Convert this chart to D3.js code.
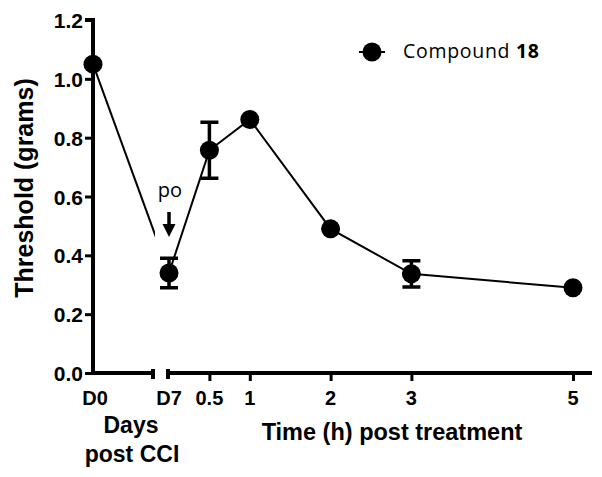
<!DOCTYPE html>
<html><head><meta charset="utf-8">
<script src="https://cdn.jsdelivr.net/npm/d3@7"></script>
<style>body{margin:0;background:#fff}svg{display:block}</style>
</head><body><svg id="c" width="602" height="477"></svg>
<script>
// Data
const baselineLabel = "D0";
const baselineValue = 1.05;
const hours = [0, 0.5, 1, 2, 3, 5];
const hourLabels = ["D7", "0.5", "1", "2", "3", "5"];
const values = [0.34, 0.757, 0.862, 0.49, 0.337, 0.29];
const errors = [0.05, 0.095, 0, 0, 0.045, 0];
const yTicks = [0, 0.2, 0.4, 0.6, 0.8, 1.0, 1.2];
const seriesName = "Compound ";
const seriesNum = "18";

const svg = d3.select("#c");
const x0 = 93, breakL = 153, breakR = 168, xEnd = 592;
const y = d3.scaleLinear().domain([0, 1.2]).range([373, 20]);
const xh = d3.scaleLinear().domain([0, 5]).range([169, 573]);
const font = "Liberation Sans, Arial, sans-serif";

// y axis
const yAxis = d3.axisLeft(y).tickValues(yTicks).tickFormat(d3.format(".1f")).tickSize(8).tickPadding(2);
const gy = svg.append("g").attr("transform", `translate(${x0},0)`).call(yAxis);
gy.select(".domain").attr("stroke", "#000").attr("stroke-width", 4).attr("d", `M-8,${y(1.2)}H0V${y(0) + 2}`);
gy.selectAll(".tick line").attr("stroke", "#000").attr("stroke-width", 3);
gy.selectAll(".tick text").attr("font-family", font).attr("font-weight", "bold").attr("font-size", 21).attr("fill", "#000").attr("dy", "0.36em");

// x axis (broken) — hours part uses a d3 bottom axis
const yb = y(0);
svg.append("path").attr("d", `M${x0},${yb}H${breakL}M${breakL},${yb-4}V${yb+6}`).attr("stroke", "#000").attr("stroke-width", 4).attr("fill", "none");
const xAxis = d3.axisBottom(xh).tickValues(hours.slice(1)).tickSize(8).tickFormat("");
const gx = svg.append("g").attr("transform", `translate(0,${yb})`).call(xAxis);
gx.select(".domain").attr("stroke", "#000").attr("stroke-width", 4).attr("d", `M${breakR},-4V6M${breakR},0H${xEnd}`);
gx.selectAll(".tick line").attr("stroke", "#000").attr("stroke-width", 3);

const xl = svg.append("g").attr("font-family", font).attr("font-weight", "bold").attr("font-size", 20).attr("text-anchor", "middle").attr("fill", "#000");
xl.append("text").attr("x", x0 + 2).attr("y", 405).text(baselineLabel);
hours.forEach((h, i) => {
  xl.append("text").attr("x", xh(h)).attr("y", 405).text(hourLabels[i]);
});

// axis titles
const tl = svg.append("g").attr("font-family", font).attr("font-weight", "bold").attr("fill", "#000");
tl.append("text").attr("transform", "translate(33,188) rotate(-90)").attr("text-anchor", "middle").attr("font-size", 25).text("Threshold (grams)");
tl.append("text").attr("x", 131).attr("y", 433).attr("text-anchor", "middle").attr("font-size", 23).text("Days");
tl.append("text").attr("x", 132).attr("y", 462).attr("text-anchor", "middle").attr("font-size", 23).text("post CCI");
tl.append("text").attr("x", 392).attr("y", 440).attr("text-anchor", "middle").attr("font-size", 23.5).text("Time (h) post treatment");

// lines
svg.append("clipPath").attr("id", "lc").append("rect").attr("x", 0).attr("y", 0).attr("width", 155).attr("height", 477);
svg.append("line").attr("clip-path", "url(#lc)")
  .attr("x1", x0).attr("y1", y(baselineValue)).attr("x2", xh(hours[0])).attr("y2", y(values[0]))
  .attr("stroke", "#000").attr("stroke-width", 2);
const line = d3.line().x((d, i) => xh(hours[i])).y(d => y(d));
svg.append("path").attr("d", line(values)).attr("fill", "none").attr("stroke", "#000").attr("stroke-width", 2);

// error bars
hours.forEach((h, i) => {
  if (!errors[i]) return;
  const cx = xh(h), lo = y(values[i] - errors[i]), hi = y(values[i] + errors[i]);
  svg.append("path").attr("d", `M${cx},${lo}V${hi}M${cx-9},${lo}H${cx+9}M${cx-9},${hi}H${cx+9}`)
    .attr("stroke", "#000").attr("stroke-width", 3.5).attr("fill", "none");
});

// points
svg.append("circle").attr("cx", x0).attr("cy", y(baselineValue)).attr("r", 9.5).attr("fill", "#000");
svg.selectAll(".pt").data(values).enter().append("circle")
  .attr("cx", (d, i) => xh(hours[i])).attr("cy", d => y(d)).attr("r", 9.5).attr("fill", "#000");

// po arrow
svg.append("text").attr("x", 170).attr("y", 197).attr("text-anchor", "middle").attr("font-family", "Open Sans, sans-serif").attr("font-size", 20).attr("fill", "#000").text("po");
svg.append("line").attr("x1", 169).attr("x2", 169).attr("y1", 212).attr("y2", 226).attr("stroke", "#000").attr("stroke-width", 3.5);
svg.append("path").attr("d", "M162.5,224H175.5L169,237Z").attr("fill", "#000");

// legend
svg.append("line").attr("x1", 359).attr("x2", 385).attr("y1", 52).attr("y2", 52).attr("stroke", "#000").attr("stroke-width", 2);
svg.append("circle").attr("cx", 372).attr("cy", 52).attr("r", 9.5).attr("fill", "#000");
const lt = svg.append("text").attr("x", 403).attr("y", 58).attr("font-family", "Open Sans, sans-serif").attr("font-size", 19.5).attr("letter-spacing", 0.7).attr("fill", "#000");
lt.append("tspan").text(seriesName);
lt.append("tspan").attr("font-weight", "bold").text(seriesNum);
</script></body></html>
